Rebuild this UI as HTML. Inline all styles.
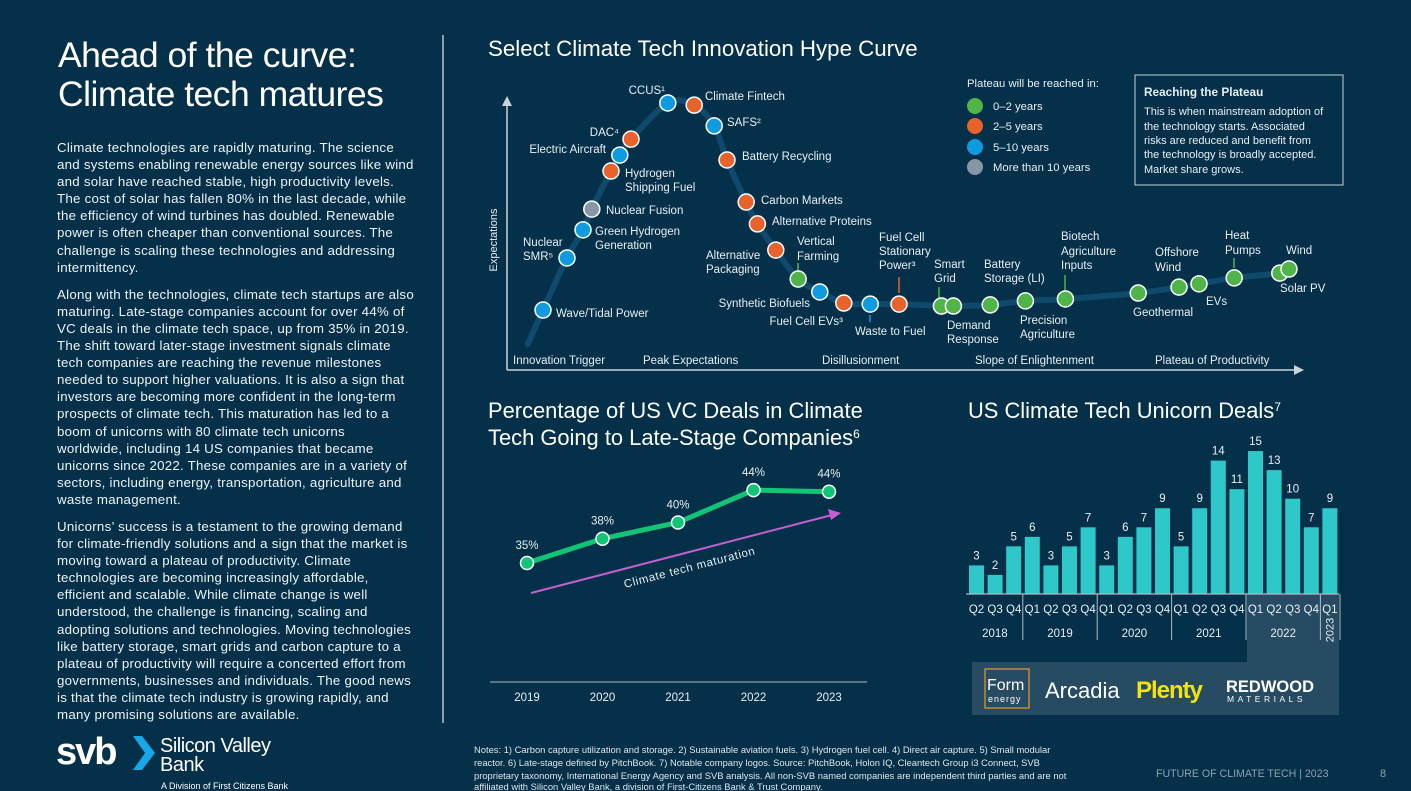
<!DOCTYPE html>
<html><head><meta charset="utf-8">
<style>
html,body{margin:0;padding:0;}
body{width:1411px;height:791px;background:#04304a;font-family:"Liberation Sans",sans-serif;color:#fff;position:relative;overflow:hidden;}
.abs{position:absolute;}
h1{position:absolute;left:58px;top:36px;margin:0;font-weight:normal;font-size:35.5px;line-height:39px;letter-spacing:-0.5px;}
.body{position:absolute;left:57px;top:139px;width:380px;font-size:13.3px;line-height:17.1px;color:#eef3f6;letter-spacing:0.25px;}
.body p{margin:0 0 10px 0;white-space:nowrap;}
svg text{font-family:"Liberation Sans",sans-serif;}
</style></head>
<body>
<h1>Ahead of the curve:<br>Climate tech matures</h1>
<div class="body">
<p>Climate technologies are rapidly maturing. The science<br>and systems enabling renewable energy sources like wind<br>and solar have reached stable, high productivity levels.<br>The cost of solar has fallen 80% in the last decade, while<br>the efficiency of wind turbines has doubled. Renewable<br>power is often cheaper than conventional sources. The<br>challenge is scaling these technologies and addressing<br>intermittency.</p>
<p>Along with the technologies, climate tech startups are also<br>maturing. Late-stage companies account for over 44% of<br>VC deals in the climate tech space, up from 35% in 2019.<br>The shift toward later-stage investment signals climate<br>tech companies are reaching the revenue milestones<br>needed to support higher valuations. It is also a sign that<br>investors are becoming more confident in the long-term<br>prospects of climate tech. This maturation has led to a<br>boom of unicorns with 80 climate tech unicorns<br>worldwide, including 14 US companies that became<br>unicorns since 2022. These companies are in a variety of<br>sectors, including energy, transportation, agriculture and<br>waste management.</p>
<p>Unicorns’ success is a testament to the growing demand<br>for climate-friendly solutions and a sign that the market is<br>moving toward a plateau of productivity. Climate<br>technologies are becoming increasingly affordable,<br>efficient and scalable. While climate change is well<br>understood, the challenge is financing, scaling and<br>adopting solutions and technologies. Moving technologies<br>like battery storage, smart grids and carbon capture to a<br>plateau of productivity will require a concerted effort from<br>governments, businesses and individuals. The good news<br>is that the climate tech industry is growing rapidly, and<br>many promising solutions are available.</p>
</div>
<div class="abs" style="left:442px;top:35px;width:2px;height:688px;background:#8a9fae;"></div>

<div class="abs" style="left:56px;top:730px;width:240px;height:61px;">
 <div class="abs" style="left:0;top:2px;font-size:38px;font-weight:bold;letter-spacing:-2px;line-height:40px;">svb</div>
 <svg class="abs" style="left:77px;top:6px" width="22" height="34"><polygon points="0,0 9,0 22,17 9,34 0,34 12,17" fill="#18a8e8"/></svg>
 <div class="abs" style="left:104px;top:7px;font-size:20px;line-height:19px;letter-spacing:-0.5px;">Silicon Valley<br>Bank</div>
 <div class="abs" style="left:105px;top:51px;font-size:9px;">A Division of First Citizens Bank</div>
</div>

<svg class="abs" style="left:0;top:0" width="1411" height="791" id="main">
 <text x="488" y="56" font-size="22.3" fill="#fff">Select Climate Tech Innovation Hype Curve</text>
 <g id="hype"></g>
 <g font-size="11.3" fill="#e8eef2">
  <text x="967" y="87">Plateau will be reached in:</text>
  <circle cx="975" cy="106" r="8" fill="#4fb548"/><text x="993" y="110">0–2 years</text>
  <circle cx="975" cy="126" r="8" fill="#e8632b"/><text x="993" y="130">2–5 years</text>
  <circle cx="975" cy="147" r="8" fill="#0f9be0"/><text x="993" y="151">5–10 years</text>
  <circle cx="975" cy="167" r="8" fill="#8797a6"/><text x="993" y="171">More than 10 years</text>
 </g>
 <g font-size="11" fill="#e8eef2">
  <rect x="1135" y="75" width="208" height="110" fill="none" stroke="#c7d2da" stroke-width="1"/>
  <text x="1144" y="96" font-weight="bold" font-size="11.8">Reaching the Plateau</text>
  <text x="1144" y="115">This is when mainstream adoption of</text>
  <text x="1144" y="130">the technology starts. Associated</text>
  <text x="1144" y="144">risks are reduced and benefit from</text>
  <text x="1144" y="158">the technology is broadly accepted.</text>
  <text x="1144" y="173">Market share grows.</text>
 </g>

 <text x="488" y="418" font-size="21.9" fill="#fff">Percentage of US VC Deals in Climate</text>
 <text x="488" y="445" font-size="21.9" fill="#fff">Tech Going to Late-Stage Companies<tspan font-size="12" dy="-7">6</tspan></text>
 <g id="vc"></g>

 <text x="968" y="418" font-size="21.9" fill="#fff">US Climate Tech Unicorn Deals<tspan font-size="12" dy="-7">7</tspan></text>
 <rect x="1247" y="594" width="92" height="68" fill="#264b62"/>
 <rect x="972" y="662" width="367" height="53" fill="#264b62"/>
 <g id="bars"></g>
 <g>
  <rect x="985" y="669" width="44" height="39" fill="none" stroke="#e79a2a" stroke-width="1.2"/>
  <text x="987" y="690" font-size="16" fill="#fff">Form</text>
  <text x="988" y="702" font-size="9" fill="#fff" letter-spacing="1">energy</text>
  <text x="1045" y="698" font-size="22" fill="#fff">Arcadia</text>
  <text x="1136" y="698" font-size="24" font-weight="bold" fill="#f2e30e" letter-spacing="-1">Plenty</text>
  <text x="1226" y="692" font-size="16.5" font-weight="bold" fill="#fff">REDWOOD</text>
  <text x="1227" y="702" font-size="8.5" fill="#fff" letter-spacing="3.5">MATERIALS</text>
 </g>

 <g font-size="9.4" fill="#dfe6eb">
  <text x="474" y="753">Notes: 1) Carbon capture utilization and storage. 2) Sustainable aviation fuels. 3) Hydrogen fuel cell. 4) Direct air capture. 5) Small modular</text>
  <text x="474" y="766">reactor. 6) Late-stage defined by PitchBook. 7) Notable company logos. Source:  PitchBook, Holon IQ, Cleantech Group i3 Connect, SVB</text>
  <text x="474" y="779">proprietary taxonomy, International Energy Agency and SVB analysis. All non-SVB named companies are independent third parties and are not</text>
  <text x="474" y="790">affiliated with Silicon Valley Bank, a division of First-Citizens Bank &amp; Trust Company.</text>
 </g>
 <text x="1156" y="777" font-size="10.6" fill="#8ea1af">FUTURE OF CLIMATE TECH  |  2023</text>
 <text x="1380" y="777" font-size="11" fill="#8ea1af">8</text>
</svg>

<script>
// ---------- Hype curve data ----------
const hypeNames = ["Wave/Tidal","Nuclear SMR","Green Hydrogen","Nuclear Fusion","Hydrogen Shipping Fuel","Electric Aircraft","DAC","CCUS","Climate Fintech","SAFS","Battery Recycling","Carbon Markets","Alternative Proteins","Alternative Packaging","Vertical Farming","Synthetic Biofuels","Fuel Cell EVs","Waste to Fuel","Fuel Cell Stationary Power","Smart Grid","Demand Response","Battery Storage","Precision Agriculture","Biotech Agriculture Inputs","Geothermal","Offshore Wind","EVs","Heat Pumps","Solar PV","Wind"];
const hypeStage = [4.5,7.5,9.5,10.6,13,14.1,15.5,20.1,23.4,25.9,27.5,29.9,31.3,33.6,36.4,39.1,42.1,45.4,49,54.3,55.8,60.4,64.8,69.8,78.9,84,86.5,90.9,96.6,97.75];
const hypeExpect = [22.2,41.5,51.9,59.6,73.7,79.6,85.5,98.9,98.1,90.4,77.8,62.2,54.1,44.4,33.7,28.9,24.8,24.4,24.4,23.7,23.7,24.1,25.6,26.3,28.5,30.7,31.9,34.1,35.9,37.4];
const hypeHorizon = ["5-10","5-10","5-10","10+","2-5","5-10","2-5","5-10","2-5","5-10","2-5","2-5","2-5","2-5","0-2","5-10","2-5","5-10","2-5","0-2","0-2","0-2","0-2","0-2","0-2","0-2","0-2","0-2","0-2","0-2"];
const stageLabels = ["Innovation Trigger","Peak Expectations","Disillusionment","Slope of Enlightenment","Plateau of Productivity"];
// ---------- VC line data ----------
const vcYears = ["2019","2020","2021","2022","2023"];
const vcValues = [35,38,40,44,43.8];
const vcLabels = ["35%","38%","40%","44%","44%"];
// ---------- Unicorn bar data ----------
const qLabels = ["Q2","Q3","Q4","Q1","Q2","Q3","Q4","Q1","Q2","Q3","Q4","Q1","Q2","Q3","Q4","Q1","Q2","Q3","Q4","Q1"];
const dealCounts = [3,2,5,6,3,5,7,3,6,7,9,5,9,14,11,15,13,10,7,9];
const yearNames = ["2018","2019","2020","2021","2022","2023"];
const yearQuarterCounts = [3,4,4,4,4,1];

const NS="http://www.w3.org/2000/svg";
function mk(tag,attrs,parent){const e=document.createElementNS(NS,tag);for(const k in attrs)e.setAttribute(k,attrs[k]);parent.appendChild(e);return e;}
const colorMap={"0-2":"#4fb548","2-5":"#e8632b","5-10":"#0f9be0","10+":"#8797a6"};
const FS=11.5;

// Hype
const hx=v=>507+v*8, hy=v=>370-v*2.7;
const hg=document.getElementById('hype');
mk('line',{x1:507,y1:370,x2:1296,y2:370,stroke:'#c9d3da','stroke-width':1.5},hg);
mk('polygon',{points:'1304,370 1294,365 1294,375',fill:'#c9d3da'},hg);
mk('line',{x1:507,y1:370,x2:507,y2:104,stroke:'#c9d3da','stroke-width':1.5},hg);
mk('polygon',{points:'507,96 502,106 512,106',fill:'#c9d3da'},hg);
const yt=mk('text',{x:0,y:0,'font-size':11,fill:'#e8eef2',transform:'translate(497,240) rotate(-90)','text-anchor':'middle'},hg);
yt.textContent='Expectations';


const stageX=[513,643,822,975,1155];
stageLabels.forEach((s,i)=>{const t=mk('text',{x:stageX[i],y:364,'font-size':FS,fill:'#e8eef2'},hg);t.textContent=s;

});
const pts=[[2.6,9.6]].concat(hypeStage.map((s,i)=>[s,hypeExpect[i]])).map(p=>[hx(p[0]),hy(p[1])]);
let d=`M${pts[0][0]},${pts[0][1]}`;
for(let i=0;i<pts.length-1;i++){const p0=pts[Math.max(0,i-1)],p1=pts[i],p2=pts[i+1],p3=pts[Math.min(pts.length-1,i+2)];
d+=` C${p1[0]+(p2[0]-p0[0])/6},${p1[1]+(p2[1]-p0[1])/6} ${p2[0]-(p3[0]-p1[0])/6},${p2[1]-(p3[1]-p1[1])/6} ${p2[0]},${p2[1]}`;}
const curve=mk('path',{d:d,fill:'none',stroke:'#0f4a6c','stroke-width':6,'stroke-linecap':'round'},hg);


[[798,263,271,'#4fb548'],[899,277,293,'#e8632b'],[939,287,298,'#4fb548'],[870,315,322,'#0f9be0'],[1065,275,291,'#4fb548'],[1234,258,268,'#4fb548']].forEach(t=>mk('line',{x1:t[0],x2:t[0],y1:t[1],y2:t[2],stroke:t[3],'stroke-width':1.5},hg));
hypeStage.forEach((s,i)=>{const c=mk('circle',{cx:hx(s),cy:hy(hypeExpect[i]),r:8,fill:colorMap[hypeHorizon[i]],stroke:'#fff','stroke-width':1.5},hg);

});
const labels=[["CCUS¹",665,94,'end'],["Climate Fintech",705,100],["SAFS²",727,126],["Battery Recycling",742,160],["Carbon Markets",761,204],["Alternative Proteins",772,225],["Vertical",797,245],["Farming",797,260],["Alternative",706,259],["Packaging",706,273],["Synthetic Biofuels",810,307,'end'],["Fuel Cell EVs³",843,325,'end'],["Waste to Fuel",855,335],["Fuel Cell",879,241],["Stationary",879,255],["Power³",879,269],["Smart",934,268],["Grid",934,282],["Demand",947,329],["Response",947,343],["Battery",984,268],["Storage (LI)",984,282],["Precision",1020,324],["Agriculture",1020,338],["Biotech",1061,240],["Agriculture",1061,255],["Inputs",1061,269],["Geothermal",1133,316],["Offshore",1155,256],["Wind",1155,271],["EVs",1206,305],["Heat",1225,239],["Pumps",1225,254],["Wind",1286,254],["Solar PV",1280,292],["Wave/Tidal Power",556,317],["Nuclear",523,246],["SMR⁵",523,260],["Green Hydrogen",595,235],["Generation",595,249],["Nuclear Fusion",606,214],["Hydrogen",625,177],["Shipping Fuel",625,191],["Electric Aircraft",606,153,'end'],["DAC⁴",619,136,'end']];
labels.forEach(l=>{const t=mk('text',{x:l[1],y:l[2],'font-size':FS,fill:'#e8eef2','text-anchor':l[3]||'start'},hg);t.textContent=l[0];

});

// VC line chart
const vg=document.getElementById('vc');
const vx=i=>527+i*75.5, vy=v=>563-(v-35)*8.1;
mk('line',{x1:490,y1:682,x2:867,y2:682,stroke:'#aebbc4','stroke-width':1},vg);
const arrow=mk('line',{x1:531,y1:593,x2:832,y2:515,stroke:'#c660d0','stroke-width':2},vg);


mk('polygon',{points:'841,513 828,509 831,520',fill:'#c660d0'},vg);
const at=mk('text',{x:0,y:0,'font-size':11.5,fill:'#e8eef2',transform:'translate(625,588) rotate(-14.5)','letter-spacing':'0.6'},vg);
at.textContent='Climate tech maturation';


let ld=vcValues.map((v,i)=>(i?'L':'M')+vx(i)+','+vy(v)).join(' ');
const vl=mk('path',{d:ld,fill:'none',stroke:'#12c476','stroke-width':5},vg);


vcValues.forEach((v,i)=>{const c=mk('circle',{cx:vx(i),cy:vy(v),r:6.5,fill:'#12c476',stroke:'#fff','stroke-width':1.5},vg);


const t=mk('text',{x:vx(i),y:vy(v)-14,'font-size':FS,fill:'#e8eef2','text-anchor':'middle'},vg);t.textContent=vcLabels[i];


const y=mk('text',{x:vx(i),y:701,'font-size':FS,fill:'#e8eef2','text-anchor':'middle'},vg);y.textContent=vcYears[i];

});

// Bars
const bg=document.getElementById('bars');
const step=18.6, bw=15, bx=i=>969+i*step, by=v=>594-v*9.53;
dealCounts.forEach((v,i)=>{const r=mk('rect',{x:bx(i),y:by(v),width:bw,height:594-by(v),fill:'#2ec8c8'},bg);


const t=mk('text',{x:bx(i)+bw/2,y:by(v)-6,'font-size':FS,fill:'#e8eef2','text-anchor':'middle'},bg);t.textContent=v;


const q=mk('text',{x:bx(i)+bw/2,y:613,'font-size':FS,fill:'#e8eef2','text-anchor':'middle'},bg);q.textContent=qLabels[i];

});
mk('line',{x1:966,y1:594,x2:1339,y2:594,stroke:'#aebbc4','stroke-width':1.2},bg);
let idx=0;
yearNames.forEach((y,k)=>{const start=bx(idx)-2, end=bx(idx+yearQuarterCounts[k])-2;
if(k>0) mk('line',{x1:start,y1:594,x2:start,y2:640,stroke:'#aebbc4','stroke-width':1},bg);
let t;
if(yearQuarterCounts[k]===1){t=mk('text',{x:0,y:0,'font-size':11,fill:'#e8eef2','text-anchor':'middle',transform:`translate(${(start+end)/2+4},630) rotate(-90)`},bg);
mk('line',{x1:end+1,y1:594,x2:end+1,y2:640,stroke:'#aebbc4','stroke-width':1},bg);}
else t=mk('text',{x:(start+end)/2,y:637,'font-size':FS,fill:'#e8eef2','text-anchor':'middle'},bg);
t.textContent=y;


idx+=yearQuarterCounts[k];});
</script>
</body></html>
